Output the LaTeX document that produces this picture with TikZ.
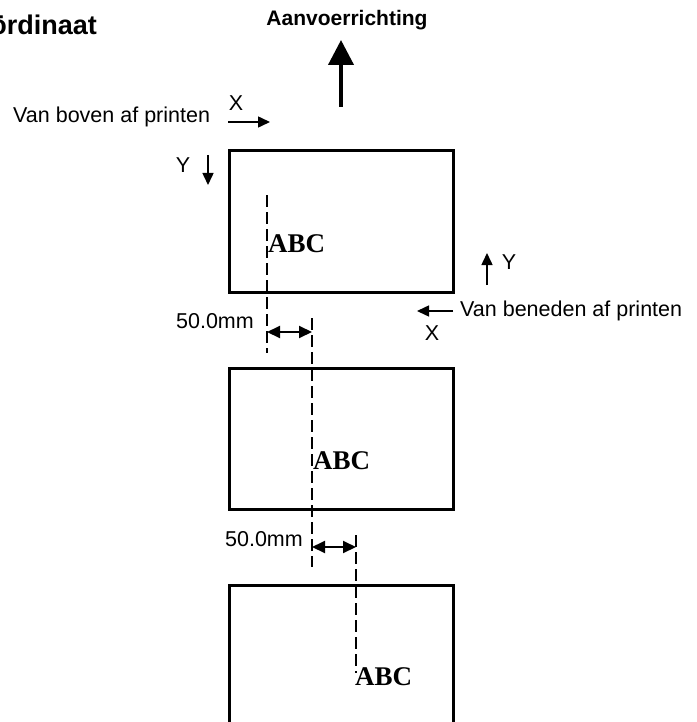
\documentclass[tikz,border=0pt]{standalone}
\usepackage{fontspec}
\setmainfont{Liberation Sans}
\newfontfamily\abcfont{Liberation Serif}
\usepackage{tikz}
\usetikzlibrary{arrows.meta,positioning}
\tikzset{
  sheet/.style={draw, line width=3pt, minimum width=224pt, minimum height=141pt, inner sep=0pt},
  lbl/.style={inner sep=0pt, font=\fontsize{21.5}{24}\selectfont},
  abc/.style={inner sep=0pt, anchor=base west, font=\abcfont\bfseries\fontsize{27}{30}\selectfont},
  guide/.style={line width=1.5pt, dash pattern=on 12pt off 5pt},
  dir/.style={-{Triangle[length=12pt, width=11pt]}, line width=1.5pt},
  dim/.style={{Triangle[length=13pt, width=12pt]}-{Triangle[length=13pt, width=12pt]}, line width=2pt},
  feed/.style={-{Triangle[length=25pt, width=25pt]}, line width=4pt}
}
\begin{document}
\begin{tikzpicture}[x=1pt, y=-1pt]
  \useasboundingbox (0,0) rectangle (696,722);
  % heading
  \node[inner sep=0pt, anchor=base east, font=\bfseries\fontsize{27}{30}\selectfont] (title) at (97,35) {Coördinaat};
  \node[inner sep=0pt, anchor=base, font=\bfseries\fontsize{21}{24}\selectfont] (feedlbl) at (347,26) {Aanvoerrichting};
  \coordinate (feedtop) at (341,40);
  \coordinate (feedbot) at (341,107);
  \draw[feed] (feedbot) -- (feedtop);

  % the three labels
  \node[sheet] (sheetA) at (341,221.5) {};
  \node[sheet] (sheetB) at (341,438.5) {};
  \node[sheet] (sheetC) at (341,655.5) {};
  \node[abc] (abcA) at (268,252) {ABC};
  \node[abc] (abcB) at (313,469) {ABC};
  \node[abc] (abcC) at (355,685) {ABC};

  % printing from the top
  \node[lbl, anchor=base west] (topprint) at (13,123) {Van boven af printen};
  \node[lbl, anchor=base] (topX) at (236,111) {X};
  \node[lbl, anchor=base] (topY) at (183,172) {Y};
  \coordinate (xs) at (228,122);
  \coordinate (xe) at (270,122);
  \coordinate (ys) at (208,155);
  \coordinate (ye) at (208,185);
  \draw[dir] (xs) -- (xe);
  \draw[dir] (ys) -- (ye);

  % printing from the bottom
  \node[lbl, anchor=base west] (botprint) at (460,316) {Van beneden af printen};
  \node[lbl, anchor=base] (botX) at (432,340) {X};
  \node[lbl, anchor=base] (botY) at (509,269) {Y};
  \coordinate (bxs) at (453,311);
  \coordinate (bxe) at (417,311);
  \coordinate (bys) at (487,285);
  \coordinate (bye) at (487,253);
  \draw[dir] (bxs) -- (bxe);
  \draw[dir] (bys) -- (bye);

  % offsets
  \coordinate (g1t) at (267,195);
  \coordinate (g1b) at (267,353);
  \coordinate (g2t) at (312,318);
  \coordinate (g2b) at (312,567);
  \coordinate (g3t) at (356,535);
  \coordinate (g3b) at (356,673);
  \draw[guide] (g1t) -- (g1b);
  \draw[guide] (g2t) -- (g2b);
  \draw[guide] (g3t) -- (g3b);
  \coordinate (d1a) at (267,332);
  \coordinate (d1b) at (312,332);
  \coordinate (d2a) at (312,547);
  \coordinate (d2b) at (356,547);
  \draw[dim] (d1a) -- (d1b);
  \draw[dim] (d2a) -- (d2b);
  \node[lbl, anchor=base east] (off1) at (254,328) {50.0mm};
  \node[lbl, anchor=base east] (off2) at (303,546) {50.0mm};
\end{tikzpicture}
\end{document}
